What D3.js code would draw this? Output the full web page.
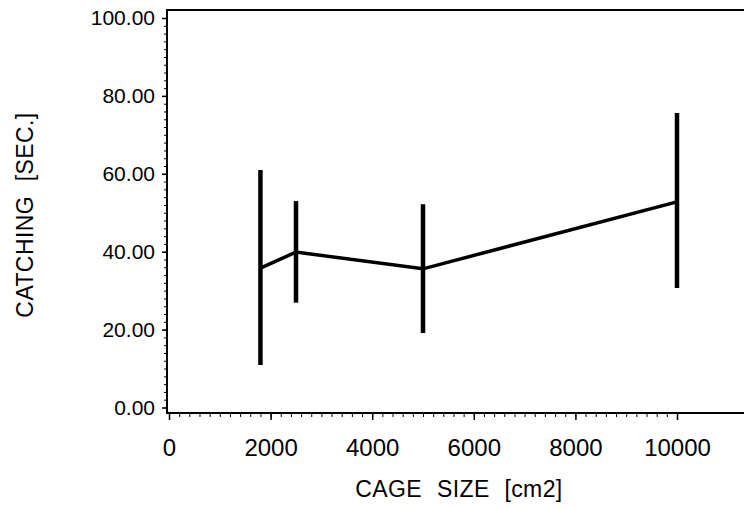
<!DOCTYPE html>
<html>
<head>
<meta charset="utf-8">
<script src="https://cdn.jsdelivr.net/npm/d3@7"></script>
<style>
  body { margin: 0; background: #fff; }
  text { font-family: "Liberation Sans", Arial, sans-serif; fill: #000; }
</style>
</head>
<body>
<div id="chart"></div>
<script>
// cage size (cm2) and catching time (sec.)
const cageSize = [1800, 2500, 5000, 10000];
const meanTime = [35.8, 39.9, 35.6, 52.8];
const upperTime = [61.0, 53.0, 52.2, 75.6];
const lowerTime = [10.9, 26.9, 19.1, 30.7];
const xTicks = [0, 2000, 4000, 6000, 8000, 10000];
const yTicks = [0, 20, 40, 60, 80, 100];

const width = 744, height = 508;
const frameLeft = 167, frameTop = 10, frameBottom = 413;

const svg = d3.select("#chart").append("svg")
    .attr("width", width)
    .attr("height", height);

const x = d3.scaleLinear().domain([0, 10000]).range([169, 677]);
const y = d3.scaleLinear().domain([0, 100]).range([407.5, 18]);

// frame lines (left, top, bottom)
const frame = svg.append("g").attr("stroke", "#000").attr("stroke-width", 2);
frame.append("line").attr("x1", frameLeft).attr("x2", frameLeft).attr("y1", frameTop - 1).attr("y2", frameBottom + 1);
frame.append("line").attr("x1", frameLeft).attr("x2", width).attr("y1", frameTop).attr("y2", frameTop);
frame.append("line").attr("x1", frameLeft).attr("x2", width).attr("y1", frameBottom).attr("y2", frameBottom);

// y axis
const yAxis = svg.append("g")
    .attr("transform", "translate(" + frameLeft + ",0)")
    .call(d3.axisLeft(y).tickValues(yTicks).tickFormat(d3.format(".2f")).tickSize(5).tickPadding(7).tickSizeOuter(0));
yAxis.select(".domain").remove();
yAxis.selectAll("text").style("font-size", "21px").attr("font-family", null);
yAxis.selectAll("line").attr("stroke-width", 1.5);

const yMinor = svg.append("g")
    .attr("transform", "translate(" + frameLeft + ",0)")
    .call(d3.axisLeft(y).tickValues(d3.range(0, 101, 2)).tickFormat("").tickSize(3).tickSizeOuter(0));
yMinor.select(".domain").remove();

// x axis
const xAxis = svg.append("g")
    .attr("transform", "translate(0," + frameBottom + ")")
    .call(d3.axisBottom(x).tickValues(xTicks).tickFormat(d3.format("d")).tickSize(7).tickPadding(19).tickSizeOuter(0));
xAxis.select(".domain").remove();
xAxis.selectAll("text").style("font-size", "24px").attr("font-family", null);
xAxis.selectAll("line").attr("stroke-width", 1.5);

const xMinor = svg.append("g")
    .attr("transform", "translate(0," + frameBottom + ")")
    .call(d3.axisBottom(x).tickValues(d3.range(0, 10001, 200)).tickFormat("").tickSize(4).tickSizeOuter(0));
xMinor.select(".domain").remove();

// axis titles
svg.append("text")
    .attr("x", 459).attr("y", 497)
    .attr("text-anchor", "middle")
    .style("font-size", "23px")
    .style("letter-spacing", "0.4px")
    .style("word-spacing", "8px")
    .text("CAGE SIZE [cm2]");

svg.append("text")
    .attr("transform", "translate(33,215) rotate(-90)")
    .attr("text-anchor", "middle")
    .style("font-size", "23px")
    .style("letter-spacing", "0.4px")
    .style("word-spacing", "8px")
    .text("CATCHING [SEC.]");

// error bars
const idx = d3.range(cageSize.length);
svg.append("g").selectAll("line")
    .data(idx)
    .enter()
    .append("line")
    .attr("x1", i => x(cageSize[i]))
    .attr("x2", i => x(cageSize[i]))
    .attr("y1", i => y(upperTime[i]))
    .attr("y2", i => y(lowerTime[i]))
    .attr("stroke", "#000")
    .attr("stroke-width", 4.5);

// mean line
svg.append("path")
    .datum(idx)
    .attr("fill", "none")
    .attr("stroke", "#000")
    .attr("stroke-width", 3.5)
    .attr("d", d3.line().x(i => x(cageSize[i])).y(i => y(meanTime[i])));
</script>
</body>
</html>
